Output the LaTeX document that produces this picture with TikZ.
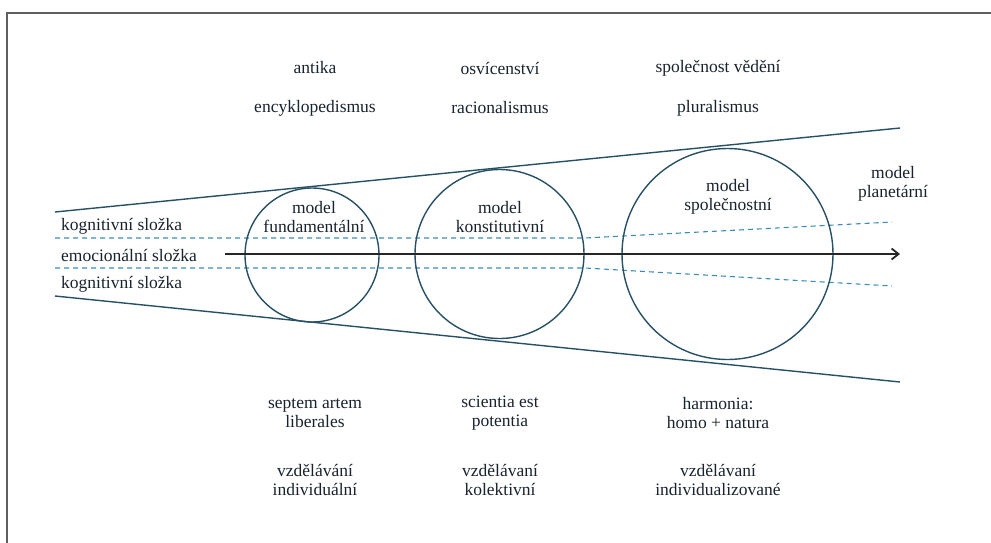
\documentclass[tikz,border=0pt]{standalone}
\usepackage{fontspec}
\setmainfont{Liberation Serif}
\usetikzlibrary{arrows.meta}
\definecolor{linec}{RGB}{40,80,100}
\definecolor{dashc}{RGB}{60,140,185}
\definecolor{textc}{RGB}{25,35,45}
\definecolor{framec}{RGB}{95,95,95}
\begin{document}
\begin{tikzpicture}[x=1pt,y=-1pt,
  lbl/.style={text=textc,font=\fontsize{17.5}{20}\selectfont,inner sep=0pt,align=center},
  ring/.style={draw=linec,line width=1.4pt,circle,inner sep=0pt},
  funnel/.style={draw=linec,line width=1.4pt},
  dsh/.style={draw=dashc,line width=1.1pt,dash pattern=on 5pt off 4pt},
  arr/.style={draw=black!85,line width=1.8pt,-{Straight Barb[length=7pt,width=11pt,line width=1.8pt]}}]
\useasboundingbox (0,0) rectangle (991,542);
% frame
\draw[framec,line width=2pt] (7,560) -- (7,12.5) -- (1000,12.5);
% funnel
\coordinate (ul) at (55,212);
\coordinate (ur) at (900,128);
\coordinate (ll) at (55,296);
\coordinate (lr) at (900,382);
\draw[funnel] (ul) -- (ur);
\draw[funnel] (ll) -- (lr);
% dashed
\coordinate (d1a) at (55,238);
\coordinate (d1b) at (585,238);
\coordinate (d1c) at (892,222);
\coordinate (d2a) at (55,268);
\coordinate (d2b) at (585,268);
\coordinate (d2c) at (892,286);
\draw[dsh] (d1a) -- (d1b) -- (d1c);
\draw[dsh] (d2a) -- (d2b) -- (d2c);
% circles
\node[ring,minimum size=134pt] (c1) at (312,255) {};
\node[ring,minimum size=169pt] (c2) at (499.5,254) {};
\node[ring,minimum size=211pt] (c3) at (727.5,254) {};
% arrow
\coordinate (as) at (225,254);
\coordinate (ae) at (900,254);
\draw[arr] (as) -- (ae);
% left labels
\node[lbl,anchor=west] (k1) at (61,226) {kognitivní složka};
\node[lbl,anchor=west] (em) at (61,255) {emocionální složka};
\node[lbl,anchor=west] (k2) at (61,284) {kognitivní složka};
% circle labels
\node[lbl] (m1) at (314,217) {model\\[-1pt]fundamentální};
\node[lbl] (m2) at (500,217) {model\\[-1pt]konstitutivní};
\node[lbl] (m3) at (728,197) {model\\[-1pt]společnostní};
\node[lbl] (m4) at (893,184) {model\\[-1pt]planetární};
% top labels
\node[lbl] (t1) at (315,68) {antika};
\node[lbl] (t2) at (500,68) {osvícenství};
\node[lbl] (t3) at (718,68) {společnost vědění};
\node[lbl] (t4) at (315,108) {encyklopedismus};
\node[lbl] (t5) at (500,108) {racionalismus};
\node[lbl] (t6) at (718,108) {pluralismus};
% bottom labels
\node[lbl] (b1) at (315,413) {septem artem\\[-1pt]liberales};
\node[lbl] (b2) at (500,413) {scientia est\\[-1pt]potentia};
\node[lbl] (b3) at (718,413) {harmonia:\\[-1pt]homo + natura};
\node[lbl] (b4) at (315,480) {vzdělávání\\[-1pt]individuální};
\node[lbl] (b5) at (500,480) {vzdělávaní\\[-1pt]kolektivní};
\node[lbl] (b6) at (718,480) {vzdělávaní\\[-1pt]individualizované};
\end{tikzpicture}
\end{document}
